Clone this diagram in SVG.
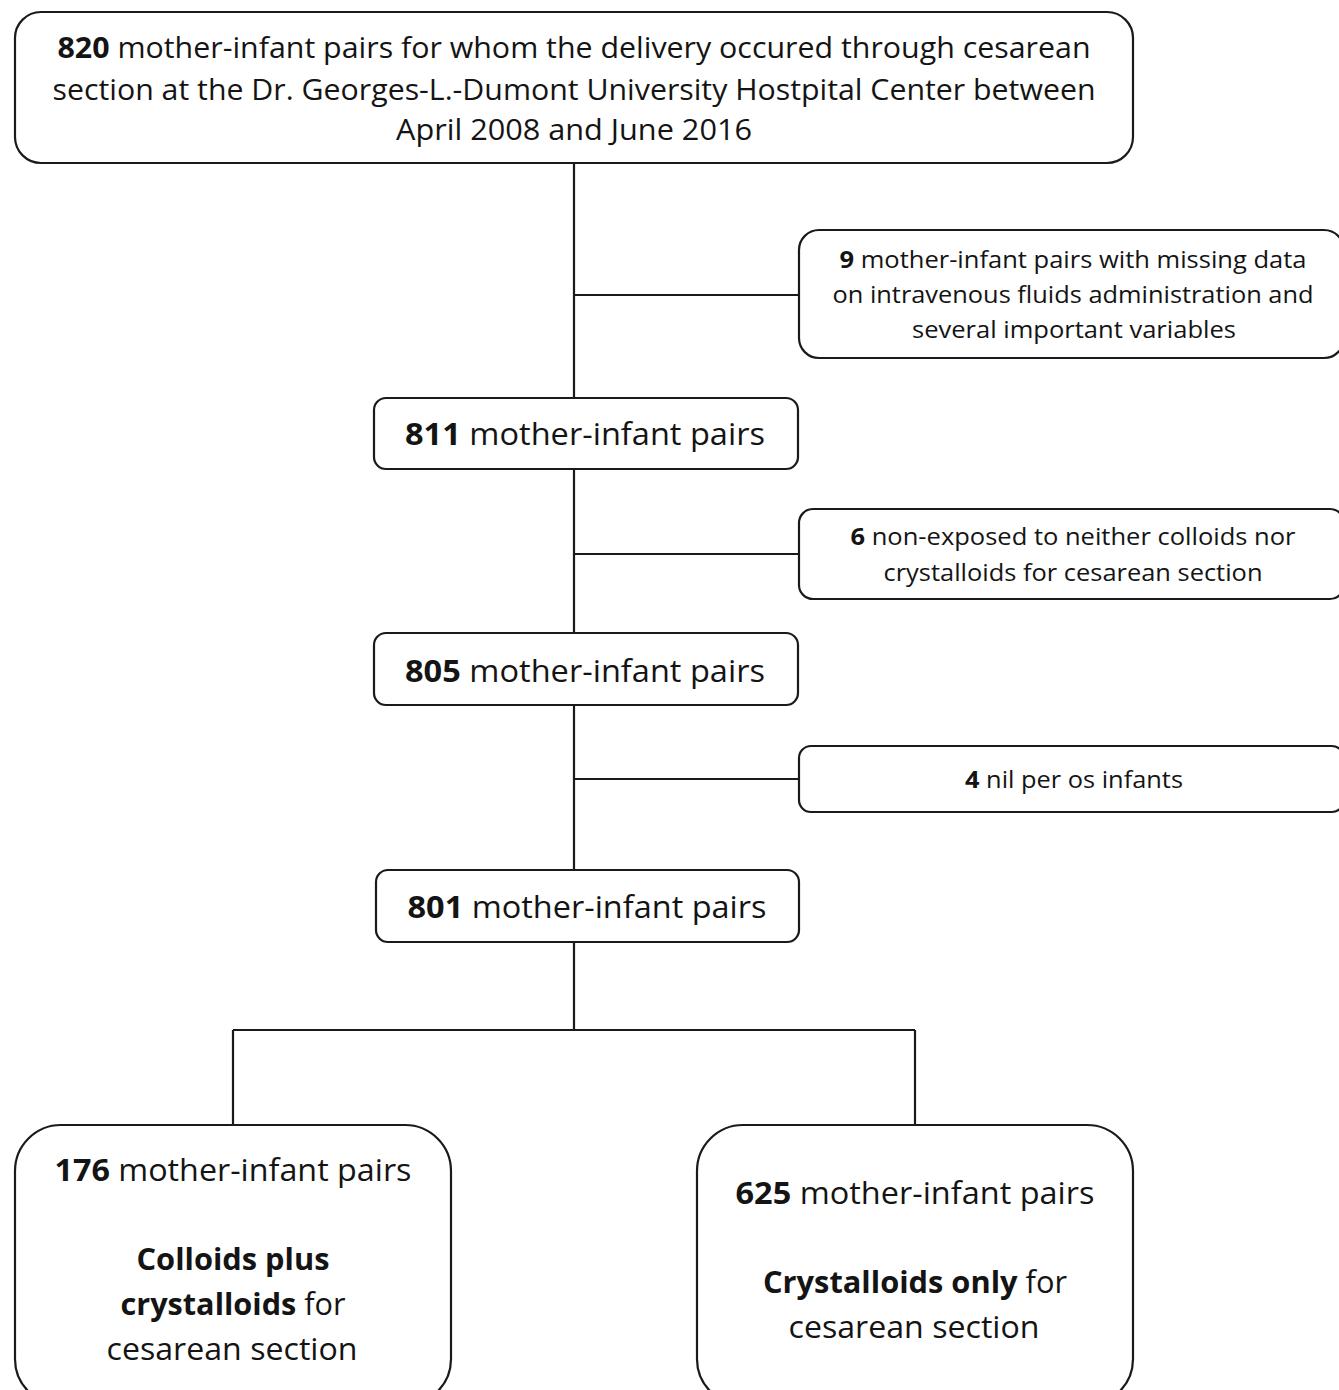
<svg xmlns="http://www.w3.org/2000/svg" width="1339" height="1390" viewBox="0 0 1339 1390">
<style>
.box{fill:#fff;stroke:#1a1a1a;stroke-width:2.2}
.ln{stroke:#1a1a1a;stroke-width:2.2;fill:none}
text{font-family:"Open Sans","Noto Sans","DejaVu Sans",sans-serif;fill:#141414;text-anchor:middle}
.t1{font-size:29px}
.t2{font-size:31px}
.t3{font-size:24px}
.b{font-weight:bold}
</style>
<rect width="1339" height="1390" fill="#fff"/>
<g id="connectors">
<path class="ln" d="M574 163V398M574 295H799M574 469V633M574 554H799M574 705V870M574 779H799M574 942V1030M233 1030H915M233 1030V1125M915 1030V1125"/>
</g>
<g id="n820">
<rect class="box" x="15" y="12" width="1118" height="151" rx="26"/>
<text class="t1" x="574" y="58" textLength="1033" lengthAdjust="spacingAndGlyphs"><tspan class="b">820</tspan> mother-infant pairs for whom the delivery occured through cesarean</text>
<text class="t1" x="574" y="100" textLength="1043" lengthAdjust="spacingAndGlyphs">section at the Dr. Georges-L.-Dumont University Hostpital Center between</text>
<text class="t1" x="574" y="140" textLength="356" lengthAdjust="spacingAndGlyphs">April 2008 and June 2016</text>
</g>
<g id="ex9">
<rect class="box" x="799" y="230" width="545" height="128" rx="20"/>
<text class="t3" x="1073" y="268" textLength="467" lengthAdjust="spacingAndGlyphs"><tspan class="b">9</tspan> mother-infant pairs with missing data</text>
<text class="t3" x="1073" y="303" textLength="481" lengthAdjust="spacingAndGlyphs">on intravenous fluids administration and</text>
<text class="t3" x="1074" y="338" textLength="324" lengthAdjust="spacingAndGlyphs">several important variables</text>
</g>
<g id="n811">
<rect class="box" x="374" y="398" width="424" height="71" rx="12"/>
<text class="t2" x="585" y="445" textLength="360" lengthAdjust="spacingAndGlyphs"><tspan class="b">811</tspan> mother-infant pairs</text>
</g>
<g id="ex6">
<rect class="box" x="799" y="509" width="545" height="90" rx="14"/>
<text class="t3" x="1073" y="545" textLength="445" lengthAdjust="spacingAndGlyphs"><tspan class="b">6</tspan> non-exposed to neither colloids nor</text>
<text class="t3" x="1073" y="581" textLength="379" lengthAdjust="spacingAndGlyphs">crystalloids for cesarean section</text>
</g>
<g id="n805">
<rect class="box" x="374" y="633" width="424" height="72" rx="12"/>
<text class="t2" x="585" y="682" textLength="360" lengthAdjust="spacingAndGlyphs"><tspan class="b">805</tspan> mother-infant pairs</text>
</g>
<g id="ex4">
<rect class="box" x="799" y="746" width="545" height="66" rx="12"/>
<text class="t3" x="1074" y="788" textLength="218" lengthAdjust="spacingAndGlyphs"><tspan class="b">4</tspan> nil per os infants</text>
</g>
<g id="n801">
<rect class="box" x="376" y="870" width="423" height="72" rx="12"/>
<text class="t2" x="587" y="918" textLength="359" lengthAdjust="spacingAndGlyphs"><tspan class="b">801</tspan> mother-infant pairs</text>
</g>
<g id="n176">
<rect class="box" x="15" y="1125" width="436" height="280" rx="46"/>
<text class="t2" x="233" y="1181" textLength="357" lengthAdjust="spacingAndGlyphs"><tspan class="b">176</tspan> mother-infant pairs</text>
<text class="t2 b" x="233" y="1270" textLength="193" lengthAdjust="spacingAndGlyphs">Colloids plus</text>
<text class="t2" x="233" y="1315" textLength="225" lengthAdjust="spacingAndGlyphs"><tspan class="b">crystalloids</tspan> for</text>
<text class="t2" x="232" y="1360" textLength="251" lengthAdjust="spacingAndGlyphs">cesarean section</text>
</g>
<g id="n625">
<rect class="box" x="697" y="1125" width="436" height="280" rx="46"/>
<text class="t2" x="915" y="1204" textLength="359" lengthAdjust="spacingAndGlyphs"><tspan class="b">625</tspan> mother-infant pairs</text>
<text class="t2" x="915" y="1293" textLength="304" lengthAdjust="spacingAndGlyphs"><tspan class="b">Crystalloids only</tspan> for</text>
<text class="t2" x="914" y="1338" textLength="251" lengthAdjust="spacingAndGlyphs">cesarean section</text>
</g>
</svg>
